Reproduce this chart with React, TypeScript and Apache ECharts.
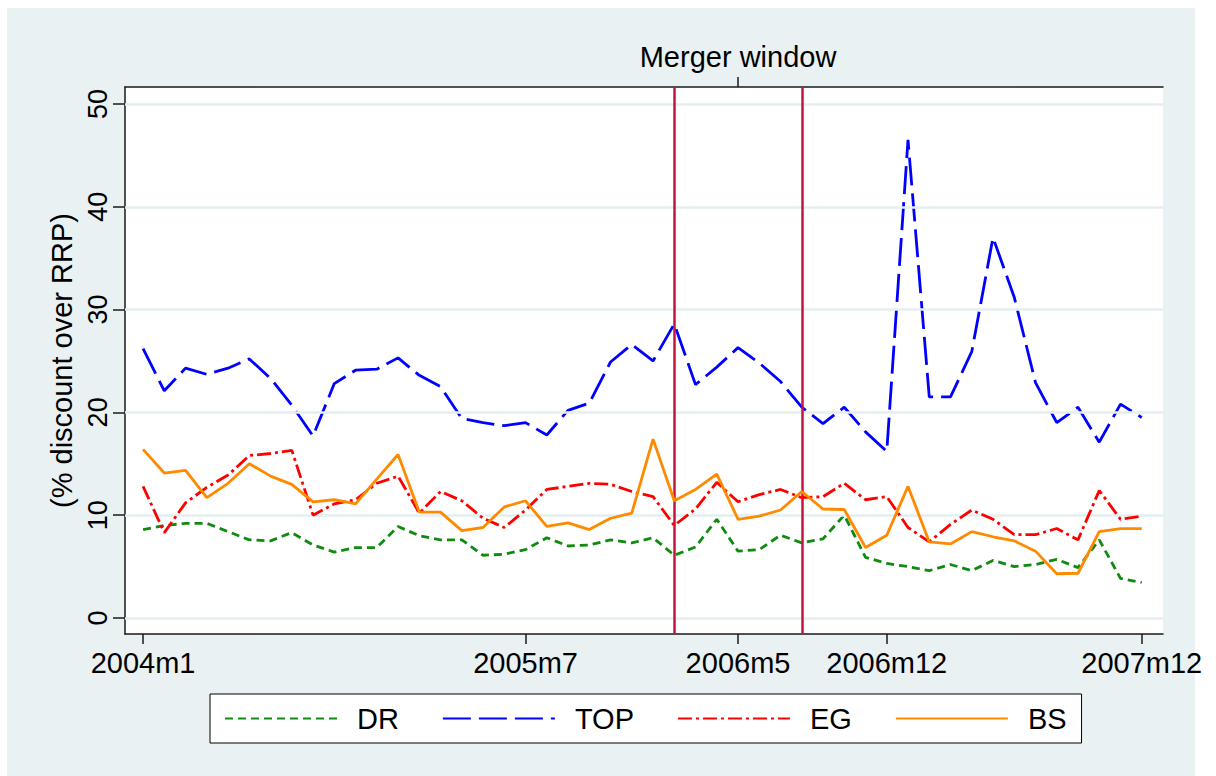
import React, { useEffect, useRef } from "react";
import * as echarts from "echarts";

const years = [2004, 2005, 2006, 2007];
const months: string[] = years.flatMap((y) =>
  Array.from({ length: 12 }, (_, m) => `${y}m${m + 1}`)
);
const xTickLabels = ["2004m1", "2005m7", "2006m5", "2006m12", "2007m12"];
const yTicks = [0, 10, 20, 30, 40, 50];
const mergerLabel = "Merger window";
const mergerMid = "2006m5";
const mergerBounds = ["2006m2", "2006m8"];

const seriesNames = ["DR", "TOP", "EG", "BS"];

const dr = [
  8.6, 9.0, 9.2, 9.2, 8.4, 7.6, 7.5, 8.3, 7.1, 6.4, 6.85, 6.85,
  8.9, 8.0, 7.6, 7.6, 6.1, 6.2, 6.65, 7.8, 7.0, 7.1, 7.6, 7.3,
  7.8, 6.1, 6.9, 9.6, 6.5, 6.65, 8.05, 7.3, 7.7, 10.0, 5.9, 5.3,
  5.0, 4.6, 5.2, 4.6, 5.6, 5.0, 5.2, 5.7, 4.9, 7.6, 3.85, 3.45,
];
const top = [
  26.2, 22.1, 24.3, 23.7, 24.3, 25.2, 23.3, 20.7, 17.7, 22.8, 24.1, 24.2,
  25.3, 23.6, 22.5, 19.4, 19.0, 18.7, 19.0, 17.8, 20.2, 20.9, 24.9, 26.6,
  25.0, 28.6, 22.7, 24.4, 26.3, 24.8, 23.0, 20.5, 18.9, 20.5, 18.1, 16.2,
  46.5, 21.5, 21.5, 25.9, 37.0, 31.2, 22.9, 19.0, 20.5, 17.1, 20.8, 19.5,
];
const eg = [
  12.8, 8.3, 11.2, 12.7, 13.9, 15.8, 16.0, 16.3, 10.0, 11.1, 11.5, 13.1,
  13.8, 10.2, 12.3, 11.4, 9.7, 8.8, 10.5, 12.5, 12.8, 13.1, 13.0, 12.3,
  11.8, 9.0, 10.6, 13.2, 11.3, 12.0, 12.5, 11.7, 11.8, 13.1, 11.5, 11.8,
  8.8, 7.4, 9.1, 10.5, 9.6, 8.1, 8.1, 8.7, 7.6, 12.4, 9.6, 9.9,
];
const bs = [
  16.4, 14.1, 14.35, 11.7, 13.1, 15.0, 13.8, 13.0, 11.3, 11.5, 11.1, 13.5,
  15.9, 10.3, 10.3, 8.5, 8.8, 10.8, 11.4, 8.9, 9.25, 8.6, 9.7, 10.2,
  17.4, 11.4, 12.5, 14.0, 9.6, 9.9, 10.5, 12.3, 10.6, 10.55, 6.85, 8.05,
  12.8, 7.4, 7.2, 8.4, 7.9, 7.5, 6.5, 4.3, 4.35, 8.4, 8.7, 8.7,
];

const FONT = "'Liberation Sans', Arial, Helvetica, sans-serif";

export default function App() {
  const ref = useRef<HTMLDivElement>(null);
  useEffect(() => {
    document.body.style.margin = "0";
    if (!ref.current) return;
    const chart = echarts.init(ref.current, undefined, { renderer: "svg" });
    const xTickIdx = xTickLabels.map((l) => months.indexOf(l));
    const midIdx = months.indexOf(mergerMid);
    const toPts = (arr: number[]) => arr.map((v, i) => [i, v]);
    const axisColor = "#1a1a1a";
    const xMin = -0.85;
    const xMax = 48.0;

    const lineSeries = [
      { name: "DR", data: dr, color: "#108a10", type: [8, 5] },
      { name: "TOP", data: top, color: "#0000ff", type: [28, 8] },
      { name: "EG", data: eg, color: "#ff0000", type: [14, 4, 3, 4] },
      { name: "BS", data: bs, color: "#ff8a00", type: "solid" },
    ].map((s, k) => ({
      name: s.name,
      type: "line",
      data: toPts(s.data),
      symbol: "none",
      showSymbol: false,
      z: 3 + k,
      lineStyle: { color: s.color, width: 2.8, type: s.type as any },
      itemStyle: { color: s.color },
    }));

    chart.setOption({
      animation: false,
      textStyle: { fontFamily: FONT },
      graphic: [
        {
          type: "rect",
          z: -100,
          shape: { x: 7, y: 8, width: 1188, height: 768 },
          style: { fill: "#e9f1f3" },
        },
      ],
      grid: {
        left: 125,
        right: 53,
        top: 87,
        bottom: 142,
        show: true,
        backgroundColor: "#ffffff",
        borderWidth: 0,
      },
      legend: {
        data: seriesNames,
        left: 210,
        top: 694,
        orient: "horizontal",
        itemWidth: 112,
        itemHeight: 14,
        itemGap: 43,
        padding: [10, 15, 10, 14],
        borderColor: "#000",
        borderWidth: 1,
        borderRadius: 0,
        backgroundColor: "#ffffff",
        itemStyle: { opacity: 0 },
        textStyle: { fontSize: 29, color: "#000", fontFamily: FONT, padding: [0, 0, 0, 15] },
      },
      xAxis: [
        {
          type: "value",
          position: "bottom",
          min: xMin,
          max: xMax,
          axisLine: { show: true, onZero: false, lineStyle: { color: axisColor, width: 1.5 } },
          axisTick: { show: true, customValues: xTickIdx, length: 10, lineStyle: { color: axisColor, width: 1.5 } },
          axisLabel: {
            customValues: xTickIdx,
            formatter: (v: number) => months[Math.round(v)],
            fontSize: 29,
            color: "#000",
            margin: 14,
            fontFamily: FONT,
          },
          splitLine: { show: false },
        },
        {
          type: "value",
          position: "top",
          min: xMin,
          max: xMax,
          axisLine: { show: true, onZero: false, lineStyle: { color: axisColor, width: 1.5 } },
          axisTick: { show: true, customValues: [midIdx], length: 10, lineStyle: { color: axisColor, width: 1.5 } },
          axisLabel: {
            customValues: [midIdx],
            formatter: () => mergerLabel,
            fontSize: 29,
            color: "#000",
            margin: 16,
            fontFamily: FONT,
          },
          splitLine: { show: false },
        },
      ],
      yAxis: {
        type: "value",
        min: -1.56,
        max: 51.65,
        axisLine: { show: true, onZero: false, lineStyle: { color: axisColor, width: 1.5 } },
        axisTick: { show: true, customValues: yTicks, length: 12, lineStyle: { color: axisColor, width: 1.5 } },
        axisLabel: {
          customValues: yTicks,
          rotate: 90,
          fontSize: 27,
          color: "#000",
          margin: 14,
          fontFamily: FONT,
        },
        splitLine: { show: false },
        name: "(% discount over RRP)",
        nameLocation: "middle",
        nameGap: 48,
        nameTextStyle: { fontSize: 29, color: "#000", fontFamily: FONT },
      },
      series: [
        {
          name: "_grid",
          type: "line",
          data: [],
          z: 1,
          silent: true,
          markLine: {
            silent: true,
            symbol: "none",
            label: { show: false },
            lineStyle: { color: "#e5eef0", width: 2.5, type: "solid" },
            data: yTicks.map((v) => ({ yAxis: v })),
          },
        },
        {
          name: "_merger",
          type: "line",
          data: [],
          z: 10,
          silent: true,
          markLine: {
            silent: true,
            symbol: "none",
            label: { show: false },
            lineStyle: { color: "#c8143c", width: 2.5, type: "solid" },
            data: mergerBounds.map((m) => ({ xAxis: months.indexOf(m) })),
          },
        },
        ...lineSeries,
      ],
    });
    return () => chart.dispose();
  }, []);
  return <div ref={ref} style={{ width: 1216, height: 776 }} />;
}
